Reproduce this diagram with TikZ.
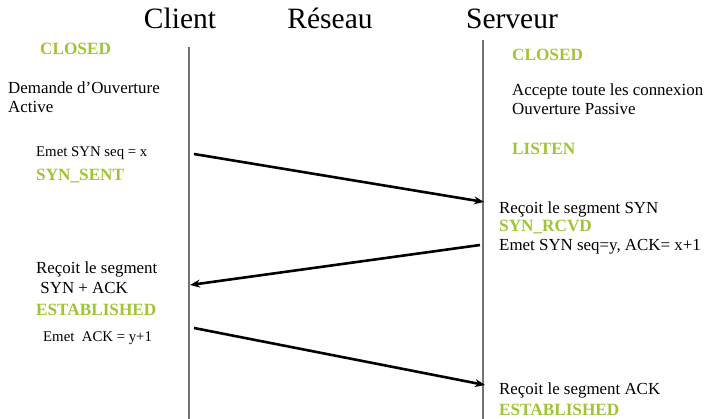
\documentclass[tikz,border=0pt]{standalone}
\usepackage{fontspec}
\setmainfont{Liberation Serif}
\usetikzlibrary{arrows.meta}
\definecolor{etatvert}{RGB}{160,196,52}

\begin{document}
\begin{tikzpicture}[x=1pt,y=-1pt,
  titre/.style={anchor=base,inner sep=0pt,font=\fontsize{29.5}{32}\selectfont},
  txt/.style={anchor=base west,inner sep=0pt,font=\fontsize{16.9}{19}\selectfont},
  petit/.style={anchor=base west,inner sep=0pt,font=\fontsize{14.8}{17}\selectfont},
  etat/.style={anchor=base west,inner sep=0pt,text=etatvert,font=\bfseries\fontsize{17.2}{19}\selectfont},
  vie/.style={draw=black!55,line width=1.2pt},
  msg/.style={line width=2.6pt,-{Stealth[length=10pt,width=8pt]}}]
\useasboundingbox (0,0) rectangle (707,419);
% titres
\node[titre] (client)  at (180,29) {Client};
\node[titre] (reseau)  at (330,29) {Réseau};
\node[titre] (serveur) at (512,29) {Serveur};
% lignes de vie
\coordinate (ctop) at (189,47);
\coordinate (cbot) at (189,419);
\coordinate (stop) at (483,40);
\coordinate (sbot) at (483,419);
\draw[vie] (ctop) -- (cbot);
\draw[vie] (stop) -- (sbot);
% cote client
\node[etat]  (cclosed) at (40,55)  {CLOSED};
\node[txt]   (cdem)    at (8,94)   {Demande d’Ouverture};
\node[txt]   (cact)    at (8,113)  {Active};
\node[petit] (csyn)    at (36,157) {Emet SYN seq = x};
\node[etat]  (csent)   at (36,181) {SYN\_SENT};
\node[txt]   (crec)    at (36,274) {Reçoit le segment};
\node[txt]   (csynack) at (36,294) {\ SYN + ACK};
\node[etat]  (cest)    at (36,316) {ESTABLISHED};
\node[petit] (cack)    at (43,342) {Emet\ \ ACK = y+1};
% cote serveur
\node[etat]  (sclosed) at (512,61)  {CLOSED};
\node[txt]   (sacc)    at (512,96)  {Accepte toute les connexion};
\node[txt]   (spas)    at (512,115) {Ouverture Passive};
\node[etat]  (slisten) at (512,155) {LISTEN};
\node[txt]   (srec)    at (499,214) {Reçoit le segment SYN};
\node[etat]  (srcvd)   at (499,232) {SYN\_RCVD};
\node[txt]   (semet)   at (499,251) {Emet SYN seq=y, ACK= x+1};
\node[txt]   (sack)    at (499,395) {Reçoit le segment ACK};
\node[etat]  (sest)    at (499,416) {ESTABLISHED};
% segments
\coordinate (c1) at (194,154);
\coordinate (s1) at (484,202);
\coordinate (s2) at (480,245);
\coordinate (c2) at (190,285);
\coordinate (c3) at (194,328);
\coordinate (s3) at (485,385);
\draw[msg] (c1) -- (s1);
\draw[msg] (s2) -- (c2);
\draw[msg] (c3) -- (s3);
\end{tikzpicture}
\end{document}
